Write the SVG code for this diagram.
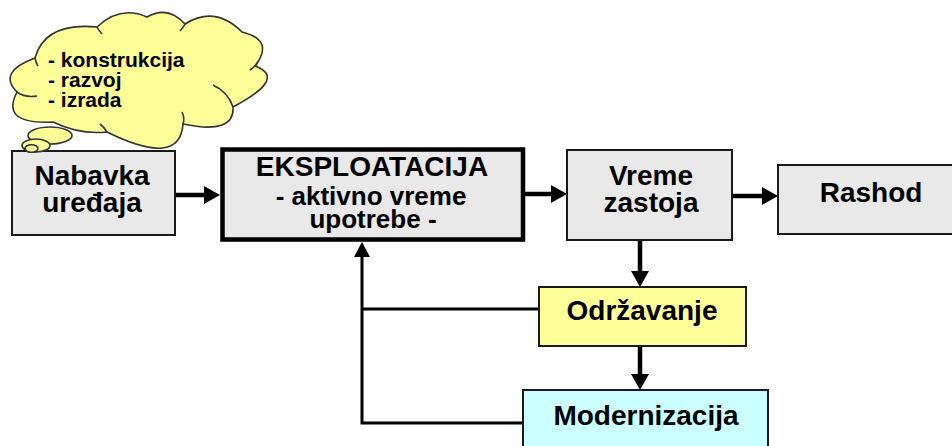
<svg xmlns="http://www.w3.org/2000/svg" width="952" height="446" viewBox="0 0 952 446">
<style>
.box{fill:#e9e9e9;stroke:#1a1a1a;stroke-width:2}
.t{font-family:"Liberation Sans",Arial,sans-serif;font-weight:bold;fill:#000;text-anchor:middle}
.big{font-size:28px}
.sub{font-size:26px}
.ct{font-family:"Liberation Sans",Arial,sans-serif;font-weight:bold;font-size:21px;fill:#000}
.main{stroke:#000;stroke-width:4.5;fill:none}
.fb{stroke:#000;stroke-width:3;fill:none}
.cloud{fill:#ffff99;stroke:#333;stroke-width:1.6}
.crease{fill:none;stroke:#333;stroke-width:1.6}
</style>
<defs>
<marker id="ah" viewBox="0 0 16 18" markerWidth="16" markerHeight="18" refX="8" refY="9" orient="auto" markerUnits="userSpaceOnUse">
<path d="M0,0 L16,9 L0,18 Z" fill="#000"/>
</marker>
<marker id="ahs" viewBox="0 0 15 16" markerWidth="15" markerHeight="16" refX="8" refY="8" orient="auto" markerUnits="userSpaceOnUse">
<path d="M0,0 L15,8 L0,16 Z" fill="#000"/>
</marker>
</defs>
<g id="connectors">
<line class="main" x1="175" y1="195" x2="212" y2="195" marker-end="url(#ah)"/>
<line class="main" x1="523" y1="194" x2="559" y2="194" marker-end="url(#ah)"/>
<line class="main" x1="732" y1="196" x2="770" y2="196" marker-end="url(#ah)"/>
<line class="main" x1="640" y1="240" x2="640" y2="279" marker-end="url(#ah)"/>
<line class="main" x1="640" y1="346" x2="640" y2="382" marker-end="url(#ah)"/>
<polyline class="fb" points="539,309 362,309"/>
<polyline class="fb" points="523,423 362,423 362,249" marker-end="url(#ahs)"/>
</g>
<g id="nabavka">
<rect class="box" x="12" y="151" width="163" height="84"/>
<text class="t big" x="92" y="185">Nabavka</text>
<text class="t big" x="92" y="212">uređaja</text>
</g>
<g id="eksploatacija">
<rect class="box" x="222.5" y="149.5" width="300.5" height="90" style="stroke:#000;stroke-width:4.5"/>
<text class="t big" x="372" y="176">EKSPLOATACIJA</text>
<text class="t sub" x="371" y="205">- aktivno vreme</text>
<text class="t sub" x="373" y="228">upotrebe -</text>
</g>
<g id="vreme">
<rect class="box" x="567" y="150" width="165" height="90"/>
<text class="t big" x="651" y="185">Vreme</text>
<text class="t big" x="651" y="212">zastoja</text>
</g>
<g id="rashod">
<rect class="box" x="778" y="165" width="190" height="69"/>
<text class="t big" x="871" y="202">Rashod</text>
</g>
<g id="odrzavanje">
<rect class="box" x="539" y="287" width="207" height="59" style="fill:#ffff99"/>
<text class="t big" x="642" y="320">Održavanje</text>
</g>
<g id="modernizacija">
<rect class="box" x="523" y="390" width="245" height="70" style="fill:#ccffff"/>
<text class="t big" x="646" y="425">Modernizacija</text>
</g>
<g id="cloud">
<path class="cloud" d="M35,58 Q45,22 97,27 Q120,5 147,17 Q168,5 185,24 Q215,5 242,32 Q275,40 255,66 Q288,78 233,107 Q235,135 183,124 Q180,168 107,132 Q80,135 53,122 Q0,125 17,92 Q-3,72 35,58 Z"/>
<path class="crease" d="M17,92 Q25,98 37,96 M107,132 Q104,127 100,124 M183,124 Q185,118 182,112 M213,85 Q228,92 233,107 M250,70 Q255,67 258,62 M35,58 Q36,63 38,66 M97,27 Q99,31 102,34 M185,24 Q183,28 180,31"/>
<ellipse class="cloud" cx="50" cy="135.5" rx="22" ry="8.5"/>
<ellipse class="cloud" cx="36" cy="145.5" rx="14" ry="6.5"/>
<ellipse class="cloud" cx="31.5" cy="148.5" rx="6.5" ry="3.8"/>
<text class="ct" x="48" y="67">- konstrukcija</text>
<text class="ct" x="48" y="87">- razvoj</text>
<text class="ct" x="48" y="107">- izrada</text>
</g>
</svg>
